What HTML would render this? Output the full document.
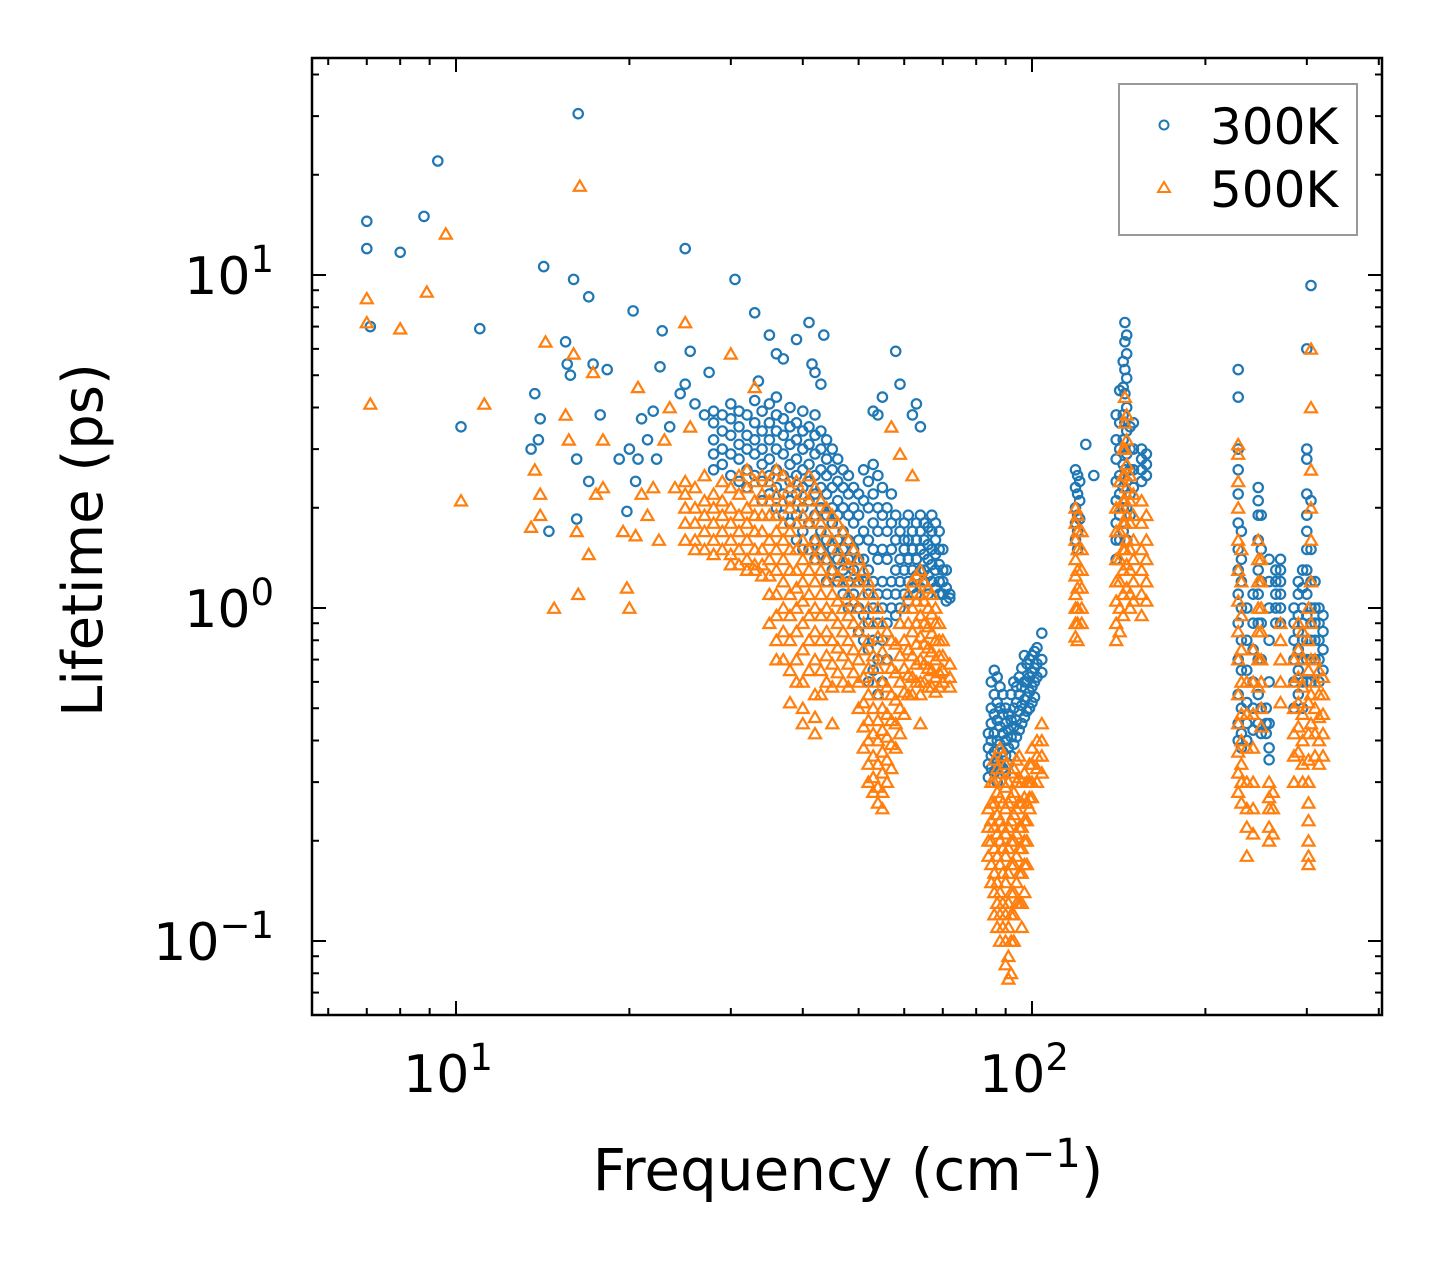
<!DOCTYPE html>
<html><head><meta charset="utf-8"><style>
html,body{margin:0;padding:0;background:#fff;}
svg{display:block;font-family:"DejaVu Sans","Liberation Sans",sans-serif;}
</style></head><body>
<svg id="chart" width="1442" height="1265" viewBox="0 0 1442 1265">
<g id="ticks"></g>
<g id="blueMarks"></g>
<g id="orangeMarks"></g>
<rect x="312" y="58" width="1070" height="957" fill="none" stroke="#000" stroke-width="2.5"/>
<g id="xlabels"></g>
<g id="ylabels"></g>
<text x="848" y="1190" font-size="58" text-anchor="middle">Frequency (cm<tspan dy="-23" font-size="40">−1</tspan><tspan dy="23">)</tspan></text>
<text transform="translate(102,540) rotate(-90)" font-size="56" text-anchor="middle">Lifetime (ps)</text>
<g>
<rect x="1119" y="84" width="238" height="151" fill="#fff" stroke="#999" stroke-width="2"/>
<circle cx="1164" cy="125" r="4.5" fill="none" stroke="#1f77b4" stroke-width="2"/>
<text x="1210" y="144" font-size="50">300K</text>
<path d="M1164,182 L1170,192 L1158,192 Z" fill="none" stroke="#ff7f0e" stroke-width="2"/>
<text x="1210" y="207" font-size="50">500K</text>
</g>
</svg>
<script>
const blueSparse=[[7,14.5],[7,12],[7.1,7],[8,11.7],[8.8,15],[9.3,22],[10.2,3.5],[11,6.9],[13.5,3],[13.7,4.4],[13.9,3.2],[14,3.7],[14.2,10.6],[14.5,1.7],[15.5,6.3],[15.6,5.4],[15.8,5],[16,9.7],[16.3,30.5],[16.2,2.8],[16.2,1.85],[17,8.6],[17,2.4],[17.3,5.4],[17.8,3.8],[18.3,5.2],[19.2,2.8],[19.8,1.95],[20,3],[20.3,7.8],[20.5,2.4],[20.7,2.8],[21,3.7],[21.5,3.2],[22,3.9],[22.3,2.8],[22.6,5.3],[22.8,6.8],[23.5,3.5],[24.5,4.4],[25,12],[25,4.7],[25.5,5.9],[26,4.1],[27,3.8],[27.5,5.1],[30.5,9.7],[33,7.7],[33.5,4.8],[35,6.6],[36,5.8],[37,5.6],[39,6.4],[41,7.2],[41.5,5.4],[42,5.1],[43,4.7],[43.5,6.6],[53,3.9],[54,3.8],[55,4.3],[58,5.9],[59,4.7],[62,3.8],[63,4.1],[64,3.5],[97,0.72],[104,0.84],[124,3.1],[128,2.5],[305,9.3]];
const blueGroups=[[28,[3.6,3.2,2.9,2.6,3.9]],[29,[3.4,3.0,2.7,3.8]],[30,[3.7,3.3,2.9,2.5,4.1]],[31,[3.5,3.1,2.8,2.4,3.9]],[32,[3.8,3.3,3.0,2.6,2.3]],[33,[3.6,3.2,2.9,2.5,4.2]],[34,[3.9,3.4,3.0,2.7,2.4,2.1]],[35,[4.1,3.6,3.2,2.8,2.5,2.2]],[36,[3.8,3.4,3.0,2.6,2.3,2.0,4.3]],[37,[3.7,3.3,2.9,2.5,2.2,1.9]],[38,[4.0,3.5,3.1,2.7,2.4,2.1,1.8]],[39,[3.6,3.2,2.8,2.5,2.2,1.9,1.6]],[40,[3.9,3.4,3.0,2.6,2.3,2.0,1.7,1.5]],[41,[3.5,3.1,2.7,2.4,2.1,1.8,1.5]],[42,[3.8,3.3,2.9,2.5,2.2,1.9,1.6,1.4]],[43,[3.4,3.0,2.6,2.3,2.0,1.7,1.5]],[44,[3.2,2.8,2.5,2.2,1.9,1.6,1.4,1.2]],[45,[3.0,2.6,2.3,2.0,1.8,1.5,1.3]],[46,[2.8,2.4,2.1,1.9,1.6,1.4,1.2]],[47,[2.6,2.3,2.0,1.7,1.5,1.3,1.1]],[48,[2.5,2.2,1.9,1.6,1.4,1.2,1.0]],[49,[2.3,2.0,1.8,1.5,1.3,1.1]],[50,[2.2,1.9,1.6,1.4,1.2,1.0,0.85]],[51,[2.6,2.1,1.7,1.4,1.2,0.95,0.8]],[52,[2.4,2.0,1.6,1.3,1.1,0.9,0.75,0.6]],[53,[2.7,2.2,1.8,1.5,1.2,1.0,0.8,0.65]],[54,[2.5,2.0,1.7,1.4,1.1,0.9,0.7,0.55]],[55,[2.3,1.9,1.5,1.2,1.0,0.8,0.6]],[56,[2.0,1.7,1.4,1.1,0.9,0.7]],[57,[2.2,1.8,1.5,1.2,1.0]],[58,[1.9,1.6,1.3,1.1,0.95]],[59,[1.7,1.4,1.2,1.0]],[60,[1.8,1.5,1.3,1.1,1.6]],[61,[1.9,1.6,1.4,1.2,1.05]],[62,[1.7,1.5,1.3,1.15]],[63,[1.8,1.6,1.4,1.25,1.1]],[64,[1.9,1.7,1.5,1.3,1.15]],[65,[1.8,1.6,1.45,1.3,1.2]],[66,[1.75,1.55,1.4,1.25,1.1]],[67,[1.9,1.7,1.5,1.35,1.2]],[68,[1.8,1.6,1.45,1.3,1.15]],[69,[1.7,1.5,1.35,1.2,1.1]],[70,[1.5,1.3,1.2,1.1]],[71,[1.3,1.15,1.05]],[72,[1.1,1.07]],
[84,[0.42,0.38,0.34,0.31]],[85,[0.6,0.5,0.45,0.4,0.36,0.33]],[86,[0.65,0.55,0.48,0.42,0.37,0.32]],[87,[0.62,0.52,0.46,0.4,0.35,0.3]],[88,[0.58,0.5,0.44,0.39,0.34]],[89,[0.55,0.48,0.42,0.37,0.33]],[90,[0.5,0.45,0.4,0.36,0.32]],[91,[0.48,0.43,0.38,0.34]],[92,[0.55,0.46,0.41,0.36]],[93,[0.6,0.5,0.44,0.39]],[94,[0.58,0.52,0.46,0.41]],[95,[0.62,0.55,0.49,0.43]],[96,[0.66,0.58,0.51,0.45]],[97,[0.6,0.53,0.47]],[98,[0.68,0.6,0.54,0.49]],[99,[0.7,0.62,0.56,0.5]],[100,[0.72,0.64,0.58,0.52]],[101,[0.74,0.66,0.6,0.54]],[102,[0.76,0.68,0.62]],[104,[0.7,0.64]],
[119,[2.6,2.3,2.0,1.8,1.6]],[120,[2.5,2.2,1.9,1.7,1.5]],[121,[2.4,2.1,1.85]],[140,[3.8,3.2,2.8,2.4,2.1,1.8,1.6,1.4]],[142,[4.5,3.6,3.0,2.5,2.2,1.9,1.6]],[144,[5.5,4.6,3.8,3.2,2.7,2.3,2.0,1.7]],[145,[7.2,6.3,5.2,4.4,3.6,3.0,2.6]],[146,[6.6,5.8,4.9,4.0,3.4,2.9,2.4,2.0,1.6]],[148,[3.5,3.0,2.6,2.2,1.9]],[150,[3.6,3.0,2.6,2.3]],[155,[3.0,2.8,2.6,2.4]],[158,[2.9,2.7,2.5]],
[228,[5.2,4.3,3.0,2.6,2.2,1.8,1.5,1.3,1.1,0.9,0.7,0.55,0.45,0.4]],[231,[1.7,1.4,1.2,1.0,0.8,0.65,0.5,0.42,0.38]],[236,[1.0,0.8,0.65,0.52,0.45,0.4]],[242,[1.1,0.9,0.75,0.6,0.5,0.43]],[247,[2.3,2.1,1.9,1.6,1.3,1.1,0.9,0.7,0.55,0.45]],[250,[1.9,1.5,1.2,0.9,0.7,0.5,0.42]],[255,[0.5,0.45,0.42]],[258,[1.4,1.2,1.0,0.8,0.6,0.45,0.38,0.35]],[265,[1.3,1.2,1.1,1.0,0.9]],[270,[1.4,1.3,1.2,1.1,1.0,0.9]],[285,[1.0,0.9,0.8,0.7,0.6,0.5]],[290,[1.2,1.1,0.95,0.85,0.75,0.65,0.55]],[295,[1.3,1.15,1.0,0.9,0.8,0.7,0.6,0.5]],[300,[6.0,3.0,2.8,2.2,1.9,1.7,1.5,1.3,1.1,0.95,0.8,0.7,0.6]],[305,[2.1,1.5,1.2,1.0,0.9,0.8,0.7,0.6]],[310,[1.2,1.0,0.9,0.8,0.7]],[315,[1.0,0.9,0.8,0.7,0.6]],[320,[0.95,0.85,0.75,0.65]]];
const orangeSparse=[[7,8.5],[7,7.2],[7.1,4.1],[8,6.9],[8.9,8.9],[9.6,13.3],[10.2,2.1],[11.2,4.1],[13.5,1.75],[13.7,2.6],[14,2.2],[14,1.9],[14.3,6.3],[14.8,1],[15.5,3.8],[15.7,3.2],[16,5.8],[16.2,1.7],[16.4,18.5],[16.3,1.1],[17,1.45],[17.3,5.1],[17.5,2.2],[18,3.2],[18,2.3],[19.5,1.7],[19.8,1.15],[20,1],[20.5,1.65],[20.7,4.6],[21,2.2],[21.5,1.9],[22,2.3],[22.5,1.6],[23,3.2],[23.5,4],[24,2.3],[25,7.2],[25.5,3.5],[30,5.8],[33,4.6],[38,0.52],[40,0.45],[42,0.42],[57,3.5],[59,2.9],[62,2.5],[64,0.45],[305,4.0]];
const orangeGroups=[[25,[2.4,2.2,2.0,1.8,1.6]],[26,[2.3,2.0,1.8,1.6,1.5]],[27,[2.5,2.1,1.9,1.7,1.5]],[28,[2.2,2.0,1.8,1.6,1.45]],[29,[2.4,2.1,1.9,1.7,1.5]],[30,[2.3,2.0,1.8,1.6,1.45,1.35]],[31,[2.5,2.2,1.9,1.7,1.5,1.35]],[32,[2.6,2.3,2.0,1.8,1.6,1.4,1.3]],[33,[2.4,2.1,1.9,1.7,1.5,1.35,1.3]],[34,[2.5,2.2,1.9,1.7,1.5,1.35,1.25]],[35,[2.4,2.1,1.9,1.6,1.4,1.25,1.1,0.9]],[36,[2.6,2.2,1.9,1.7,1.5,1.3,1.1,0.95,0.8,0.7]],[37,[2.5,2.1,1.8,1.6,1.4,1.2,1.0,0.85,0.7]],[38,[2.3,2.0,1.7,1.5,1.3,1.1,0.95,0.8,0.65]],[39,[2.4,2.1,1.8,1.5,1.3,1.15,1.0,0.85,0.7,0.6]],[40,[2.2,1.9,1.6,1.4,1.2,1.05,0.9,0.75,0.6,0.5]],[41,[2.5,2.1,1.8,1.5,1.3,1.1,0.95,0.8,0.65]],[42,[2.3,1.9,1.6,1.4,1.2,1.0,0.85,0.7,0.55,0.47]],[43,[2.1,1.8,1.5,1.3,1.1,0.95,0.8,0.65,0.55]],[44,[2.0,1.7,1.4,1.2,1.0,0.85,0.72,0.6]],[45,[1.9,1.6,1.3,1.1,0.95,0.8,0.68,0.58,0.45]],[46,[1.8,1.5,1.25,1.05,0.9,0.76,0.64]],[47,[1.7,1.4,1.2,1.0,0.85,0.72,0.6]],[48,[1.6,1.35,1.1,0.95,0.8,0.68,0.58]],[49,[1.5,1.25,1.05,0.9,0.75,0.64]],[50,[1.4,1.2,1.0,0.85,0.7,0.6,0.5]],[51,[1.3,1.1,0.9,0.75,0.62,0.52,0.44,0.38]],[52,[1.2,1.0,0.8,0.66,0.55,0.46,0.4,0.34,0.3]],[53,[1.1,0.9,0.72,0.6,0.5,0.42,0.36,0.31,0.28]],[54,[1.0,0.82,0.66,0.55,0.46,0.4,0.34,0.29,0.26]],[55,[0.9,0.74,0.6,0.5,0.43,0.37,0.32,0.28,0.25]],[56,[0.85,0.7,0.58,0.48,0.41,0.35,0.3]],[57,[0.8,0.66,0.55,0.46,0.39,0.33]],[58,[0.78,0.64,0.53,0.45,0.38]],[59,[0.9,0.72,0.6,0.5,0.42]],[60,[1.0,0.8,0.66,0.56,0.48]],[61,[1.1,0.9,0.75,0.63,0.55]],[62,[1.2,1.0,0.85,0.72,0.62,0.55]],[63,[1.25,1.05,0.9,0.78,0.68,0.6]],[64,[1.3,1.1,0.95,0.82,0.7,0.6,0.55]],[65,[1.2,1.05,0.9,0.78,0.68,0.6]],[66,[1.15,1.0,0.88,0.76,0.66,0.58]],[67,[1.1,0.96,0.84,0.74,0.65,0.58]],[68,[1.0,0.9,0.8,0.7,0.62,0.56]],[69,[0.9,0.8,0.72,0.64,0.58]],[70,[0.8,0.72,0.65,0.6]],[72,[0.68,0.62,0.58]],
[84,[0.25,0.22,0.2,0.18]],[85,[0.3,0.26,0.23,0.2,0.17,0.15]],[86,[0.35,0.3,0.26,0.22,0.19,0.16,0.14,0.12]],[87,[0.33,0.28,0.24,0.21,0.18,0.15,0.13,0.11]],[88,[0.38,0.32,0.27,0.23,0.2,0.17,0.14,0.12,0.1]],[89,[0.36,0.3,0.26,0.22,0.19,0.16,0.13,0.11]],[90,[0.34,0.29,0.25,0.21,0.18,0.15,0.12,0.1,0.085]],[91,[0.3,0.26,0.22,0.19,0.16,0.13,0.11,0.09,0.077]],[92,[0.32,0.27,0.23,0.2,0.17,0.14,0.12,0.1,0.08]],[93,[0.33,0.28,0.24,0.2,0.17,0.14,0.12,0.1]],[94,[0.35,0.3,0.25,0.21,0.18,0.15,0.13]],[95,[0.36,0.31,0.26,0.22,0.19,0.16,0.13]],[96,[0.3,0.26,0.22,0.19,0.16,0.13,0.11]],[97,[0.32,0.27,0.23,0.2,0.17,0.14]],[98,[0.3,0.26,0.23,0.2,0.17]],[99,[0.34,0.3,0.27,0.25]],[100,[0.38,0.34,0.3,0.27]],[102,[0.4,0.36,0.33,0.3]],[104,[0.45,0.4,0.36,0.32]],
[119,[2.0,1.8,1.6,1.4,1.25,1.1,1.0,0.9,0.82]],[120,[1.9,1.7,1.5,1.3,1.15,1.0,0.9,0.8]],[122,[1.7,1.5,1.3,1.15,1.0,0.9]],[140,[2.0,1.7,1.4,1.2,1.05,0.9,0.8]],[142,[2.4,2.0,1.7,1.4,1.2,1.0,0.85]],[144,[3.0,2.5,2.1,1.8,1.5,1.3,1.1,0.95]],[145,[4.3,3.6,3.0,2.5,2.1,1.8,1.5]],[146,[3.8,3.2,2.7,2.3,1.9,1.6,1.35,1.15]],[148,[2.5,2.1,1.8,1.5,1.3,1.1,1.0]],[150,[2.2,1.9,1.6,1.4,1.2,1.05]],[155,[2.1,1.8,1.5,1.3,1.1,0.95]],[158,[1.9,1.6,1.4,1.2,1.05]],
[228,[3.1,2.9,2.4,2.0,1.6,1.3,1.05,0.85,0.7,0.55,0.45,0.37,0.32,0.28]],[231,[1.5,1.2,0.95,0.75,0.6,0.48,0.4,0.34,0.3,0.26]],[236,[0.6,0.48,0.38,0.3,0.25,0.22,0.18]],[242,[0.75,0.6,0.48,0.38,0.3,0.25,0.21]],[247,[1.6,1.4,1.2,1.0,0.85,0.7,0.58]],[250,[1.4,1.2,1.0,0.85,0.7,0.6,0.5,0.44]],[258,[0.3,0.27,0.25,0.22,0.2]],[262,[0.28,0.25,0.21]],[270,[0.9,0.8,0.7,0.6,0.52]],[285,[0.7,0.6,0.5,0.42,0.36,0.3]],[290,[0.9,0.75,0.62,0.52,0.44,0.37]],[295,[0.85,0.7,0.58,0.48,0.4,0.34,0.3]],[302,[1.0,0.8,0.65,0.52,0.42,0.35,0.3,0.26,0.23,0.2,0.18,0.17]],[305,[6.0,2.6,2.0,1.6,1.2,0.9,0.7,0.55,0.45]],[310,[0.7,0.6,0.5,0.42,0.36]],[315,[0.65,0.55,0.47,0.4,0.34]],[320,[0.62,0.55,0.48,0.42,0.36]]];
const xMajor=[10,100];
const xMajorLabels=["1","2"];
const xMinor=[6,7,8,9,20,30,40,50,60,70,80,90,200,300,400];
const yMajor=[0.1,1,10];
const yMajorLabels=["−1","0","1"];
const yMinor=[0.07,0.08,0.09,0.2,0.3,0.4,0.5,0.6,0.7,0.8,0.9,2,3,4,5,6,7,8,9,20,30,40];

const NS="http://www.w3.org/2000/svg";
function xs(f){return 456+576*Math.log10(f/10);}
function ys(v){return 608-333*Math.log10(v);}
function mk(tag,attrs,parent){const e=document.createElementNS(NS,tag);for(const k in attrs)e.setAttribute(k,attrs[k]);parent.appendChild(e);return e;}
const L=312,R=1382,T=58,B=1015;
const tg=document.getElementById('ticks');
function tick(x1,y1,x2,y2,name){const l=mk('line',{x1:x1,y1:y1,x2:x2,y2:y2,stroke:'#000','stroke-width':2},tg);

}
xMajor.forEach(f=>{const x=xs(f);tick(x,B,x,B-14,'x-major-tick');tick(x,T,x,T+14,'x-major-tick-top');});
xMinor.forEach(f=>{const x=xs(f);tick(x,B,x,B-7,'x-minor-tick');tick(x,T,x,T+7,'x-minor-tick-top');});
yMajor.forEach(v=>{const y=ys(v);tick(L,y,L+14,y,'y-major-tick');tick(R,y,R-14,y,'y-major-tick-right');});
yMinor.forEach(v=>{const y=ys(v);tick(L,y,L+7,y,'y-minor-tick');tick(R,y,R-7,y,'y-minor-tick-right');});
const xl=document.getElementById('xlabels');
xMajor.forEach((f,i)=>{const t=mk('text',{x:xs(f)-8,y:1092,'font-size':52,'text-anchor':'middle'},xl);


t.innerHTML='10<tspan dy="-22" font-size="37">'+xMajorLabels[i]+'</tspan>';});
const yl=document.getElementById('ylabels');
yMajor.forEach((v,i)=>{const t=mk('text',{x:274,y:ys(v)+19,'font-size':52,'text-anchor':'end'},yl);


t.innerHTML='10<tspan dy="-22" font-size="37">'+yMajorLabels[i]+'</tspan>';});
function circ(f,v,g){const c=mk('circle',{cx:xs(f).toFixed(1),cy:ys(v).toFixed(1),r:4.7,fill:'none',stroke:'#1f77b4','stroke-width':2.2},g);

}
function tri(f,v,g){const x=xs(f),y=ys(v);const p=mk('path',{d:`M${x.toFixed(1)},${(y-5.5).toFixed(1)}L${(x+6).toFixed(1)},${(y+4.8).toFixed(1)}L${(x-6).toFixed(1)},${(y+4.8).toFixed(1)}Z`,fill:'none',stroke:'#ff7f0e','stroke-width':2.2},g);

}
const bg=document.getElementById('blueMarks'),og=document.getElementById('orangeMarks');
blueSparse.forEach(d=>circ(d[0],d[1],bg));
blueGroups.forEach(g=>g[1].forEach(v=>circ(g[0],v,bg)));
orangeSparse.forEach(d=>tri(d[0],d[1],og));
orangeGroups.forEach(g=>g[1].forEach(v=>tri(g[0],v,og)));
</script>
</body></html>
